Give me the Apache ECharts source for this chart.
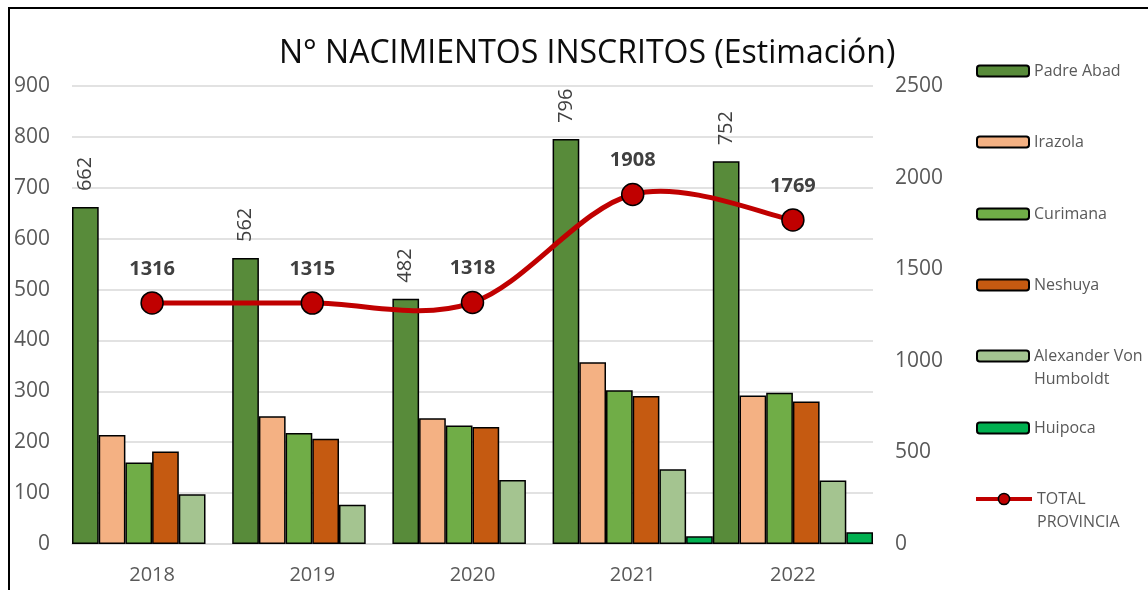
<!DOCTYPE html>
<html>
<head>
<meta charset="utf-8">
<script src="https://cdn.jsdelivr.net/npm/echarts@6/dist/echarts.min.js"></script>
<style>
html,body{margin:0;padding:0;background:#fff;}
#chart{width:1148px;height:590px;}
</style>
</head>
<body>
<div id="chart"></div>
<script>
const categories = ['2018', '2019', '2020', '2021', '2022'];
const padreAbad = [662, 562, 482, 796, 752];
const irazola = [214, 251, 247, 357, 292];
const curimana = [160, 218, 233, 302, 297];
const neshuya = [182, 207, 230, 291, 280];
const humboldt = [98, 77, 126, 147, 125];
const huipoca = [null, null, null, 15, 23];
const totalProvincia = [1316, 1315, 1318, 1908, 1769];
const leftTicks = { min: 0, max: 900, interval: 100 };
const rightTicks = { min: 0, max: 2500, interval: 500 };

const FONT = 'Open Sans';
const RED = '#C00000';
const barBorder = { borderColor: '#000', borderWidth: 1.5 };

function barSeries(name, data, color, extra) {
  return Object.assign({
    name: name,
    type: 'bar',
    data: data,
    barGap: '0%',
    barCategoryGap: '0%',
    itemStyle: Object.assign({ color: color }, barBorder),
    emphasis: { disabled: true }
  }, extra || {});
}

const chart = echarts.init(document.getElementById('chart'));

const legendNames = ['Padre Abad', 'Irazola', 'Curimana', 'Neshuya', 'Alexander Von Humboldt', 'Huipoca', 'TOTAL PROVINCIA'];
const legendCenters = [71, 142, 214, 285, 356, 428, 499];
const LH = 23;
const legends = legendNames.map(function (n, i) {
  const isLine = n === 'TOTAL PROVINCIA';
  const multi = (n === 'Alexander Von Humboldt' || isLine);
  const ih = isLine ? 14 : 11;
  const opt = {
    data: [n],
    orient: 'vertical',
    padding: 0,
    left: isLine ? 974 : 976,
    top: multi ? legendCenters[i] - LH * 1.5 : legendCenters[i] - LH / 2,
    itemWidth: isLine ? 56 : 52,
    itemHeight: ih,
    selectedMode: false,
    formatter: function (name) {
      if (name === 'Alexander Von Humboldt') return ' \nAlexander Von\nHumboldt';
      if (name === 'TOTAL PROVINCIA') return ' \nTOTAL\nPROVINCIA';
      return name;
    },
    textStyle: {
      fontFamily: FONT, fontSize: 16, color: '#595959', lineHeight: LH
    }
  };
  if (isLine) {
    opt.lineStyle = { color: RED, width: 4, opacity: 1 };
    opt.itemStyle = { color: RED, borderColor: '#000', borderWidth: 1.5, opacity: 1 };
  }
  return opt;
});

// Smooth total line drawn through the axis scale (Excel-style spline)
function renderCurve(params, api) {
  const i = params.dataIndex;
  if (i >= totalProvincia.length - 1) return null;
  function pt(j) {
    j = Math.max(0, Math.min(totalProvincia.length - 1, j));
    return api.coord([j, totalProvincia[j]]);
  }
  const p0 = pt(i - 1), p1 = pt(i), p2 = pt(i + 1), p3 = pt(i + 2);
  const t = 1 / 6;
  return {
    type: 'bezierCurve',
    shape: {
      x1: p1[0], y1: p1[1],
      cpx1: p1[0] + (p2[0] - p0[0]) * t, cpy1: p1[1] + (p2[1] - p0[1]) * t,
      cpx2: p2[0] - (p3[0] - p1[0]) * t, cpy2: p2[1] - (p3[1] - p1[1]) * t,
      x2: p2[0], y2: p2[1]
    },
    style: { stroke: RED, lineWidth: 5, fill: 'none', lineCap: 'round' },
    silent: true
  };
}

chart.setOption({
  animation: false,
  backgroundColor: '#fff',
  title: {
    text: 'N° NACIMIENTOS INSCRITOS (Estimación)',
    left: 274,
    top: 33,
    textStyle: { fontFamily: FONT, fontSize: 32, fontWeight: 'normal', color: '#0d0d0d' }
  },
  graphic: [{
    type: 'rect',
    shape: { x: 9, y: 8, width: 1300, height: 800 },
    style: { fill: 'none', stroke: '#000', lineWidth: 2 },
    silent: true
  }],
  legend: legends,
  grid: { left: 72, right: 275, top: 86, bottom: 46, containLabel: false },
  xAxis: {
    type: 'category',
    data: categories,
    axisLine: { show: true, lineStyle: { color: '#D9D9D9', width: 1.5 } },
    axisTick: { show: false },
    axisLabel: { fontFamily: FONT, fontSize: 20, color: '#595959', margin: 21 }
  },
  yAxis: [{
    type: 'value',
    min: leftTicks.min, max: leftTicks.max, interval: leftTicks.interval,
    axisLine: { show: false }, axisTick: { show: false },
    splitLine: { lineStyle: { color: '#D9D9D9', width: 1.5 } },
    axisLabel: { fontFamily: FONT, fontSize: 21, color: '#595959', margin: 22 }
  }, {
    type: 'value',
    min: rightTicks.min, max: rightTicks.max, interval: rightTicks.interval,
    axisLine: { show: false }, axisTick: { show: false },
    splitLine: { show: false },
    axisLabel: { fontFamily: FONT, fontSize: 21, color: '#595959', margin: 22,
      formatter: function (v) { return String(v); } }
  }],
  series: [
    barSeries('Padre Abad', padreAbad, '#588B3A', {
      label: {
        show: true, position: 'top', rotate: 90, align: 'left', verticalAlign: 'middle',
        distance: 16, fontFamily: FONT, fontSize: 20, color: '#404040'
      }
    }),
    barSeries('Irazola', irazola, '#F4B183'),
    barSeries('Curimana', curimana, '#70AD47'),
    barSeries('Neshuya', neshuya, '#C55A11'),
    barSeries('Alexander Von Humboldt', humboldt, '#A4C490'),
    barSeries('Huipoca', huipoca, '#00B050'),
    {
      name: 'TOTAL curve',
      type: 'custom',
      yAxisIndex: 1,
      data: totalProvincia.map(function (v, i) { return [i, v]; }),
      renderItem: renderCurve,
      z: 5,
      silent: true
    },
    {
      name: 'TOTAL PROVINCIA',
      type: 'line',
      yAxisIndex: 1,
      data: totalProvincia,
      symbol: 'circle',
      symbolSize: 22,
      z: 10,
      lineStyle: { color: RED, width: 0, opacity: 0 },
      itemStyle: { color: RED, borderColor: '#000', borderWidth: 1.5 },
      label: {
        show: true, position: 'top', distance: 12,
        fontFamily: FONT, fontSize: 20, fontWeight: 'bold', color: '#404040'
      },
      emphasis: { disabled: true }
    }
  ]
});
</script>
</body>
</html>
